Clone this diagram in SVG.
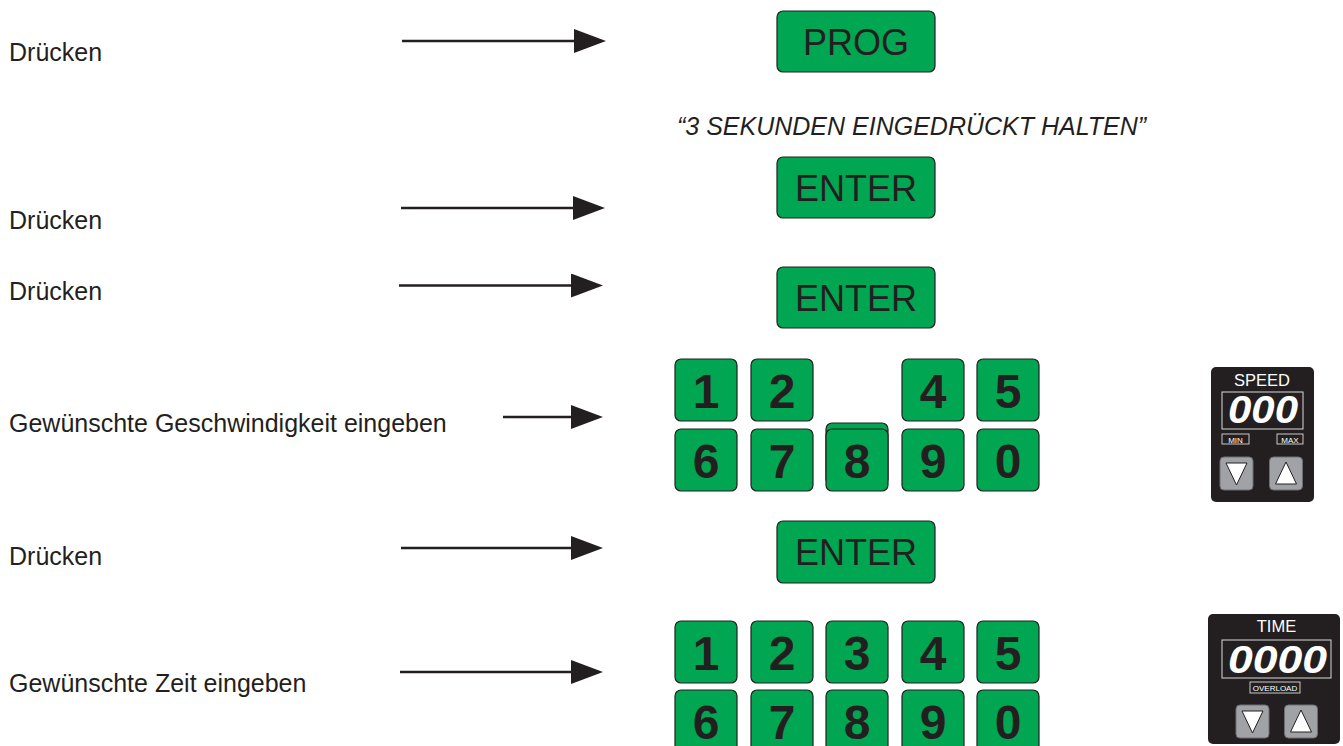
<svg xmlns="http://www.w3.org/2000/svg" width="1343" height="746" viewBox="0 0 1343 746">
  <style>
    .label { font-family: "Liberation Sans", Arial, sans-serif; font-size: 25px; fill: #231f20; }
    .note { font-family: "Liberation Sans", Arial, sans-serif; font-size: 25px; font-style: italic; fill: #231f20; }
    .btn { fill: #00a651; stroke: #231f20; stroke-width: 1.2; }
    .btn-text { font-family: "Liberation Sans", Arial, sans-serif; font-size: 36px; fill: #231f20; text-anchor: middle; }
    .key-text { font-family: "Liberation Sans", Arial, sans-serif; font-size: 48px; font-weight: bold; fill: #231f20; text-anchor: middle; }
    .conn { stroke: #231f20; stroke-width: 2.6; fill: none; }
    .panel { fill: #231f20; }
    .panel-title { font-family: "Liberation Sans", Arial, sans-serif; font-size: 16.5px; fill: #ffffff; text-anchor: middle; }
    .lcd { fill: none; stroke: #d9d9d9; stroke-width: 1; }
    .lcd-text { font-family: "Liberation Sans", Arial, sans-serif; font-size: 38px; font-weight: bold; font-style: italic; fill: #ffffff; text-anchor: middle; }
    .tag { fill: none; stroke: #d9d9d9; stroke-width: 0.9; }
    .tag-text { font-family: "Liberation Sans", Arial, sans-serif; font-size: 8px; fill: #ffffff; text-anchor: middle; }
    .pbtn { fill: #a0a2a5; stroke: #6d6e71; stroke-width: 1; }
    .tri { fill: #ffffff; stroke: #231f20; stroke-width: 1; }
  </style>
  <defs>
    <marker id="head" markerUnits="userSpaceOnUse" markerWidth="32" markerHeight="24" viewBox="0 0 32 24" refX="1" refY="12" orient="auto">
      <path d="M0,0 L32,12 L0,24 Z" fill="#231f20"/>
    </marker>
    <!-- keypad key shape -->
    <rect id="key" width="62" height="62" rx="6" class="btn"/>
    <!-- panel push buttons -->
    <g id="btn-down">
      <rect width="33" height="33" rx="4" class="pbtn"/>
      <path d="M6,6 L27,6 L16.5,28 Z" class="tri"/>
    </g>
    <g id="btn-up">
      <rect width="33" height="33" rx="4" class="pbtn"/>
      <path d="M6,27 L27,27 L16.5,5 Z" class="tri"/>
    </g>
  </defs>

  <!-- step labels -->
  <g id="labels">
    <text class="label" x="9" y="61">Drücken</text>
    <text class="label" x="9" y="229">Drücken</text>
    <text class="label" x="9" y="300">Drücken</text>
    <text class="label" x="9" y="432">Gewünschte Geschwindigkeit eingeben</text>
    <text class="label" x="9" y="565">Drücken</text>
    <text class="label" x="9" y="692">Gewünschte Zeit eingeben</text>
  </g>

  <!-- connectors -->
  <g id="connectors">
    <line class="conn" x1="402" y1="41" x2="575" y2="41" marker-end="url(#head)"/>
    <line class="conn" x1="401" y1="208" x2="574" y2="208" marker-end="url(#head)"/>
    <line class="conn" x1="399" y1="285.5" x2="572" y2="285.5" marker-end="url(#head)"/>
    <line class="conn" x1="503" y1="417" x2="572" y2="417" marker-end="url(#head)"/>
    <line class="conn" x1="401" y1="548" x2="572" y2="548" marker-end="url(#head)"/>
    <line class="conn" x1="400" y1="672" x2="572" y2="672" marker-end="url(#head)"/>
  </g>

  <!-- PROG button -->
  <g id="prog">
    <rect x="777" y="11" width="158" height="61" rx="6" class="btn"/>
    <text class="btn-text" x="856" y="55">PROG</text>
  </g>

  <text id="hold-note" class="note" x="677" y="135">“3 SEKUNDEN EINGEDRÜCKT HALTEN”</text>

  <g id="enter-1">
    <rect x="777" y="157" width="158" height="61" rx="6" class="btn"/>
    <text class="btn-text" x="856" y="201">ENTER</text>
  </g>

  <g id="enter-2">
    <rect x="777" y="267" width="158" height="61" rx="6" class="btn"/>
    <text class="btn-text" x="856" y="311">ENTER</text>
  </g>

  <!-- speed keypad -->
  <g id="keypad-speed">
    <use href="#key" x="675" y="359"/>
    <use href="#key" x="751" y="359"/>
    <use href="#key" x="902" y="359"/>
    <use href="#key" x="977" y="359"/>
    <use href="#key" x="675" y="429"/>
    <use href="#key" x="751" y="429"/>
    <use href="#key" x="826" y="423"/>
    <use href="#key" x="826" y="429"/>
    <use href="#key" x="902" y="429"/>
    <use href="#key" x="977" y="429"/>
    <text class="key-text" x="706" y="408">1</text>
    <text class="key-text" x="782" y="408">2</text>
    <text class="key-text" x="933" y="408">4</text>
    <text class="key-text" x="1008" y="408">5</text>
    <text class="key-text" x="706" y="478">6</text>
    <text class="key-text" x="782" y="478">7</text>
    <text class="key-text" x="857" y="478">8</text>
    <text class="key-text" x="933" y="478">9</text>
    <text class="key-text" x="1008" y="478">0</text>
  </g>

  <!-- speed panel -->
  <g id="speed-panel">
    <rect x="1211" y="367" width="103" height="135" rx="5" class="panel"/>
    <text class="panel-title" x="1262" y="386">SPEED</text>
    <rect x="1222" y="392" width="81" height="37" class="lcd"/>
    <text class="lcd-text" x="1263" y="423" textLength="70" lengthAdjust="spacingAndGlyphs">000</text>
    <rect x="1222" y="434" width="27" height="10" class="tag"/>
    <text class="tag-text" x="1235.5" y="442.5">MIN</text>
    <rect x="1277" y="434" width="26" height="10" class="tag"/>
    <text class="tag-text" x="1290" y="442.5">MAX</text>
    <use href="#btn-down" x="1220" y="457"/>
    <use href="#btn-up" x="1269.5" y="457"/>
  </g>

  <g id="enter-3">
    <rect x="777" y="521" width="158" height="62" rx="6" class="btn"/>
    <text class="btn-text" x="856" y="565">ENTER</text>
  </g>

  <!-- time keypad -->
  <g id="keypad-time">
    <use href="#key" x="675" y="621"/>
    <use href="#key" x="751" y="621"/>
    <use href="#key" x="826" y="621"/>
    <use href="#key" x="902" y="621"/>
    <use href="#key" x="977" y="621"/>
    <use href="#key" x="675" y="690"/>
    <use href="#key" x="751" y="690"/>
    <use href="#key" x="826" y="690"/>
    <use href="#key" x="902" y="690"/>
    <use href="#key" x="977" y="690"/>
    <text class="key-text" x="706" y="670">1</text>
    <text class="key-text" x="782" y="670">2</text>
    <text class="key-text" x="857" y="670">3</text>
    <text class="key-text" x="933" y="670">4</text>
    <text class="key-text" x="1008" y="670">5</text>
    <text class="key-text" x="706" y="739">6</text>
    <text class="key-text" x="782" y="739">7</text>
    <text class="key-text" x="857" y="739">8</text>
    <text class="key-text" x="933" y="739">9</text>
    <text class="key-text" x="1008" y="739">0</text>
  </g>

  <!-- time panel -->
  <g id="time-panel">
    <rect x="1208" y="614" width="132" height="130" rx="5" class="panel"/>
    <text class="panel-title" x="1276.5" y="632">TIME</text>
    <rect x="1222" y="640" width="109" height="38" class="lcd"/>
    <text class="lcd-text" x="1277.5" y="673" textLength="99" lengthAdjust="spacingAndGlyphs">0000</text>
    <rect x="1250" y="682" width="50" height="11" class="tag"/>
    <text class="tag-text" x="1275" y="691">OVERLOAD</text>
    <use href="#btn-down" x="1236" y="705"/>
    <use href="#btn-up" x="1284.5" y="705"/>
  </g>
</svg>
